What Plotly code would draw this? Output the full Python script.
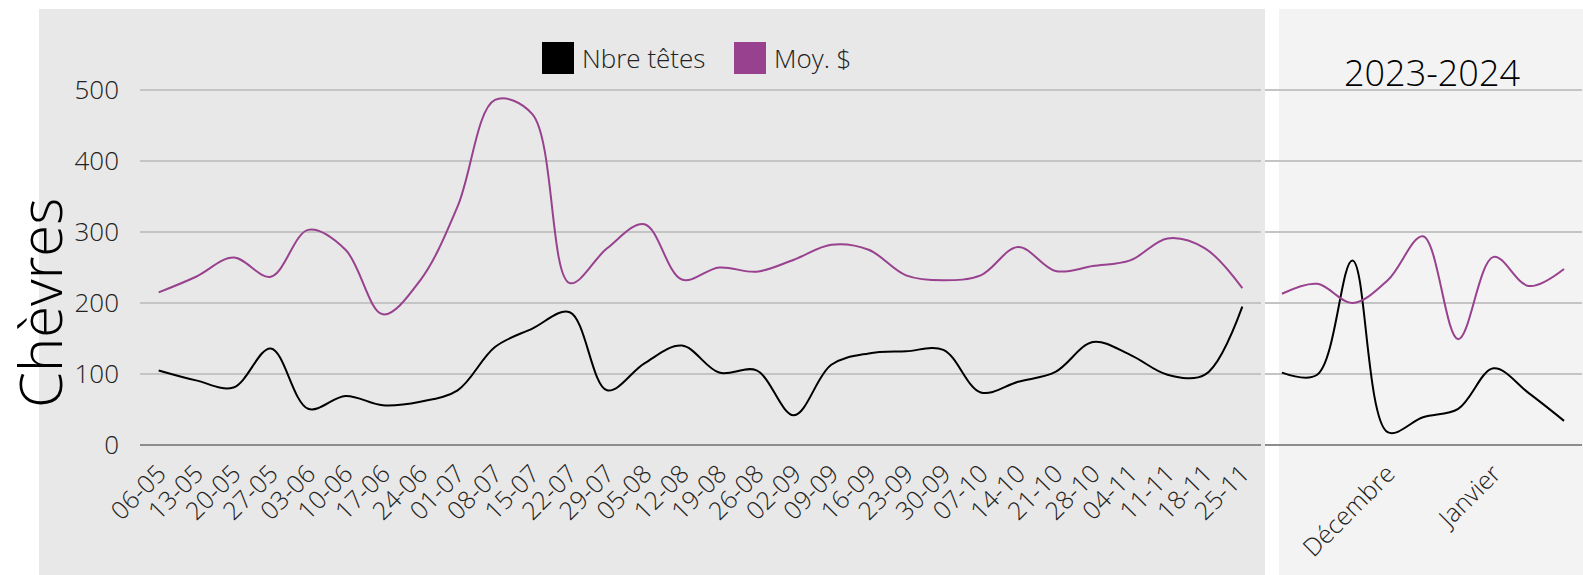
import plotly.graph_objects as go

W, H = 1583, 575

# ---- data ----
weeks = ["06-05", "13-05", "20-05", "27-05", "03-06", "10-06", "17-06", "24-06",
         "01-07", "08-07", "15-07", "22-07", "29-07", "05-08", "12-08", "19-08",
         "26-08", "02-09", "09-09", "16-09", "23-09", "30-09", "07-10", "14-10",
         "21-10", "28-10", "04-11", "11-11", "18-11", "25-11"]
nbre_tetes = [105, 91, 81, 136, 51, 69, 56, 61, 77, 138, 164, 187, 77, 115, 140,
              102, 105, 42, 113, 129, 132, 134, 74, 89, 103, 145, 127, 99, 99, 195]
moy_prix = [215, 237, 264, 237, 303, 275, 184, 232, 336, 486, 466, 228, 277, 311,
            233, 250, 244, 261, 282, 275, 239, 232, 239, 279, 245, 252, 260, 291,
            277, 221]

weeks_2324 = ["02-12", "09-12", "16-12", "23-12", "30-12", "06-01", "13-01",
              "20-01", "27-01"]
month_ticks = ["23-12", "13-01"]
month_labels = ["Décembre", "Janvier"]
nbre_tetes_2324 = [102, 99, 260, 18, 39, 51, 108, 73, 34]
moy_prix_2324 = [213, 227, 200, 232, 294, 149, 265, 224, 248]

series_names = ["Nbre têtes", "Moy. $"]
series_colors = ["#000000", "#98418e"]
panel_title = "2023-2024"
y_title = "Chèvres"

# ---- helpers (pixel -> paper) ----
def px(x):
    return x / W

def py(y):
    return (H - y) / H

FONT = "Open Sans"
fig = go.Figure()

fig.add_trace(go.Scatter(x=weeks, y=nbre_tetes, mode="lines", name=series_names[0],
                         line=dict(color=series_colors[0], width=2, shape="spline", smoothing=1),
                         xaxis="x", yaxis="y", showlegend=False))
fig.add_trace(go.Scatter(x=weeks, y=moy_prix, mode="lines", name=series_names[1],
                         line=dict(color=series_colors[1], width=2, shape="spline", smoothing=1),
                         xaxis="x", yaxis="y", showlegend=False))
fig.add_trace(go.Scatter(x=weeks_2324, y=nbre_tetes_2324, mode="lines", name=series_names[0],
                         line=dict(color=series_colors[0], width=2, shape="spline", smoothing=1),
                         xaxis="x2", yaxis="y2", showlegend=False))
fig.add_trace(go.Scatter(x=weeks_2324, y=moy_prix_2324, mode="lines", name=series_names[1],
                         line=dict(color=series_colors[1], width=2, shape="spline", smoothing=1),
                         xaxis="x2", yaxis="y2", showlegend=False))

ydom = [py(445), py(54.5)]
grid = dict(showgrid=True, gridcolor="#c4c4c4", gridwidth=1.5,
            zeroline=True, zerolinecolor="#8c8c8c", zerolinewidth=1.5,
            range=[0, 550], tick0=0, dtick=100, domain=ydom, fixedrange=True,
            automargin=False)

tickfont_x = dict(family=FONT, size=25, color="#222222", weight=300)
tickfont_y = dict(family=FONT, size=26, color="#222222", weight=300)

fig.update_layout(
    width=W, height=H,
    margin=dict(l=0, r=0, t=0, b=0, pad=0),
    paper_bgcolor="white",
    plot_bgcolor="rgba(0,0,0,0)",
    showlegend=False,
    xaxis=dict(domain=[px(140), px(1261)], type="category", range=[-0.5, 29.5],
               tickangle=-45, tickfont=tickfont_x, showgrid=False, showline=False,
               ticks="", ticklabelstandoff=8, anchor="y", automargin=False,
               fixedrange=True),
    yaxis=dict(**grid, tickfont=tickfont_y, ticks="", ticklabelstandoff=20, anchor="x"),
    xaxis2=dict(domain=[px(1265), px(1582)], type="category", range=[-0.48, 8.51],
                tickmode="array", tickvals=month_ticks, ticktext=month_labels,
                tickangle=-45, tickfont=tickfont_x, showgrid=False, showline=False,
                ticks="", ticklabelstandoff=8, anchor="y2", automargin=False,
                fixedrange=True),
    yaxis2=dict(**grid, showticklabels=False, ticks="", anchor="x2"),
)

shapes = [
    dict(type="rect", xref="paper", yref="paper", x0=px(39), x1=px(1265),
         y0=0, y1=py(9), fillcolor="#e8e8e8", line=dict(width=0), layer="below"),
    dict(type="rect", xref="paper", yref="paper", x0=px(1279), x1=1,
         y0=0, y1=py(9), fillcolor="#f3f3f3", line=dict(width=0), layer="below"),
    # legend swatches
    dict(type="rect", xref="paper", yref="paper", x0=px(542), x1=px(574),
         y0=py(74), y1=py(42), fillcolor=series_colors[0], line=dict(width=0)),
    dict(type="rect", xref="paper", yref="paper", x0=px(734), x1=px(766),
         y0=py(74), y1=py(42), fillcolor=series_colors[1], line=dict(width=0)),
]
fig.update_layout(shapes=shapes)

annotations = [
    dict(text=series_names[0], x=px(580), y=py(58), xref="paper", yref="paper",
         xanchor="left", yanchor="middle", showarrow=False,
         font=dict(family=FONT, size=26, color="#222222", weight=300)),
    dict(text=series_names[1], x=px(772), y=py(58), xref="paper", yref="paper",
         xanchor="left", yanchor="middle", showarrow=False,
         font=dict(family=FONT, size=26, color="#222222", weight=300)),
    dict(text=panel_title, x=px(1432), y=py(72), xref="paper", yref="paper",
         xanchor="center", yanchor="middle", showarrow=False,
         font=dict(family=FONT, size=36, color="#000000", weight=300)),
    dict(text=y_title, x=px(39), y=py(303), xref="paper", yref="paper",
         xanchor="center", yanchor="middle", showarrow=False, textangle=-90,
         font=dict(family=FONT, size=58, color="#000000", weight=300)),
]
fig.update_layout(annotations=annotations)

fig.write_html("out.html", config={"displayModeBar": False},
               post_script="document.body.style.margin='0';")
